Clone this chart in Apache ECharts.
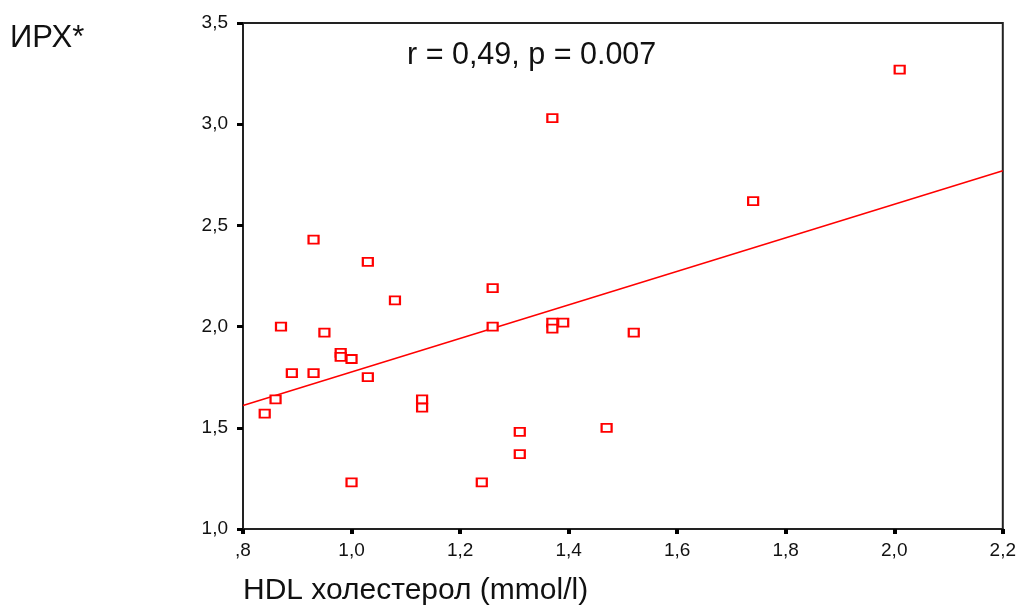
<!DOCTYPE html>
<html>
<head>
<meta charset="utf-8">
<script src="https://cdn.jsdelivr.net/npm/echarts@6/dist/echarts.min.js"></script>
<style>html,body{margin:0;padding:0;background:#fff;}#c{width:1019px;height:605px;}</style>
</head>
<body>
<div id="c"></div>
<script>
// HDL cholesterol (mmol/l)
const hdlX = [0.93, 1.03, 1.08, 0.87, 0.95, 0.98, 0.98, 1.00, 0.89, 0.93, 1.03, 0.86, 0.84, 1.13, 1.13, 1.00,
              1.37, 1.26, 1.26, 1.37, 1.37, 1.39, 1.52, 1.47, 1.31, 1.31, 1.24, 1.74, 2.01];
// ИРХ*
const irhY = [2.43, 2.32, 2.13, 2.00, 1.97, 1.87, 1.85, 1.84, 1.77, 1.77, 1.75, 1.64, 1.57, 1.64, 1.60, 1.23,
              3.03, 2.19, 2.00, 2.02, 1.99, 2.02, 1.97, 1.50, 1.48, 1.37, 1.23, 2.62, 3.27];
// regression line endpoints
const fitX = [0.8, 2.2];
const fitY = [1.61, 2.77];
const statText = 'r = 0,49, p = 0.007';
const xTitle = 'HDL холестерол (mmol/l)';
const yTitle = 'ИРХ*';

function fmt(v) {
  let s = v.toFixed(1).replace('.', ',');
  if (s.startsWith('0,')) s = s.slice(1);
  return s;
}

const FONT = '"Liberation Sans", Arial, sans-serif';
const chart = echarts.init(document.getElementById('c'));
chart.setOption({
  animation: false,
  backgroundColor: '#fff',
  title: [
    { text: statText, left: 407, top: 41, padding: 0,
      textStyle: { fontFamily: FONT, fontSize: 30.5, fontWeight: 'normal', color: '#111', lineHeight: 30 } },
    { text: yTitle, left: 10, top: 24, padding: 0,
      textStyle: { fontFamily: FONT, fontSize: 31, fontWeight: 'normal', color: '#111', lineHeight: 29 } },
    { text: xTitle, left: 243, top: 576, padding: 0,
      textStyle: { fontFamily: FONT, fontSize: 30, fontWeight: 'normal', color: '#111', lineHeight: 29 } }
  ],
  grid: { left: 243, right: 15, top: 23, bottom: 76, show: true, borderColor: '#222', borderWidth: 2, backgroundColor: 'transparent' },
  xAxis: {
    type: 'value', min: 0.8, max: 2.2, interval: 0.2,
    axisLine: { show: true, lineStyle: { color: '#222', width: 2 } },
    axisTick: { show: true, length: 5, lineStyle: { color: '#000', width: 4 } },
    axisLabel: { formatter: fmt, margin: 12, fontFamily: FONT, fontSize: 19, color: '#111' },
    splitLine: { show: false }
  },
  yAxis: {
    type: 'value', min: 1, max: 3.5, interval: 0.5,
    axisLine: { show: true, lineStyle: { color: '#222', width: 2 } },
    axisTick: { show: true, length: 6, lineStyle: { color: '#000', width: 3 } },
    axisLabel: { formatter: fmt, margin: 15, fontFamily: FONT, fontSize: 19, color: '#111' },
    splitLine: { show: false }
  },
  series: [
    {
      type: 'line', data: fitX.map((x, i) => [x, fitY[i]]),
      showSymbol: false, symbol: 'none', lineStyle: { color: '#ff0000', width: 1.5 }, z: 2, silent: true
    },
    {
      type: 'scatter', data: hdlX.map((x, i) => [x, irhY[i]]),
      symbol: 'rect', symbolSize: [10, 8],
      itemStyle: { color: '#ffffff', borderColor: '#ff0000', borderWidth: 2, opacity: 1 }, z: 3
    }
  ]
});
</script>
</body>
</html>
